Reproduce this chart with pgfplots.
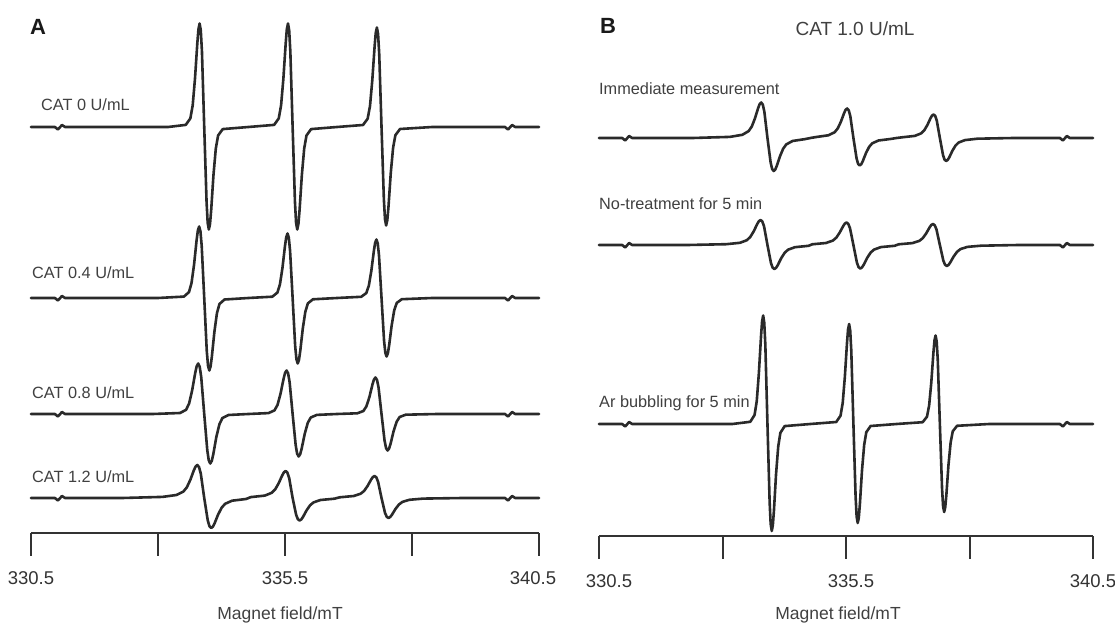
\documentclass[border=0pt]{standalone}
\usepackage{fontspec}
\setmainfont{Liberation Sans}
\usepackage{pgfplots}
\pgfplotsset{compat=1.18}
\definecolor{trace}{HTML}{2A2A2A}
\definecolor{axisgray}{HTML}{333333}
\definecolor{txt}{HTML}{404040}
\pgfplotsset{
  spec/.style={line width=2.6pt, color=trace, line join=round, line cap=round, no marks},
  epr/.style={scale only axis, axis x line=bottom, axis y line=none,
    axis line style={-, line width=2pt, color=axisgray},
    xmin=330.5, xmax=340.5,
    xtick={330.5,333,335.5,338,340.5},
    xtick align=outside, major tick length=23pt,
    tick style={line width=2pt, color=axisgray},
    xticklabel style={font=\fontsize{18.5}{20}\selectfont, text=axisgray, anchor=north, inner sep=0pt, yshift=-15pt},
    clip=false}
}
\begin{document}
\begin{tikzpicture}
\useasboundingbox (0,0) rectangle (1115pt,623pt);
% ---------------- Panel A ----------------
\begin{axis}[epr, at={(31pt,90pt)}, anchor=south west, width=508pt, height=533pt, ymin=-533, ymax=0,
  xticklabels={330.5,,335.5,,\hspace*{-12pt}340.5}]
% CAT 0
\addplot[spec] coordinates {
(330.5,-127) (330.97,-127) (331.03,-129.5) (331.11,-125) (331.17,-127) (333.2,-127)
(333.546,-124.9) (333.637,-118.4) (333.683,-105.3) (333.728,-78.7) (333.774,-43.2) (333.796,-29.2) (333.819,-23.5) (333.842,-30.2) (333.865,-51.3) (333.910,-127) (333.956,-201.9) (333.978,-222.8) (334.001,-229.5) (334.024,-223.9) (334.047,-210.0) (334.092,-174.9) (334.138,-148.5) (334.183,-135.5) (334.274,-129.1)
(334.78,-127)
(335.286,-124.9) (335.377,-118.4) (335.423,-105.3) (335.468,-78.7) (335.514,-43.2) (335.536,-29.2) (335.559,-23.5) (335.582,-30.2) (335.605,-51.3) (335.650,-127) (335.696,-201.9) (335.718,-222.8) (335.741,-229.5) (335.764,-223.9) (335.787,-210.0) (335.832,-174.9) (335.878,-148.5) (335.923,-135.5) (336.014,-129.1)
(336.525,-127)
(337.036,-125.0) (337.127,-118.7) (337.173,-106.1) (337.218,-80.5) (337.264,-46.4) (337.286,-33.0) (337.309,-27.5) (337.332,-34.0) (337.355,-54.3) (337.400,-127) (337.446,-199.0) (337.468,-219.1) (337.491,-225.5) (337.514,-220.1) (337.537,-206.8) (337.582,-173.0) (337.628,-147.7) (337.673,-135.2) (337.764,-129.0)
(338.4,-127) (339.83,-127) (339.89,-129.5) (339.97,-125) (340.03,-127) (340.5,-127)
};
% CAT 0.4
\addplot[spec] coordinates {
(330.5,-298) (330.97,-298) (331.03,-300.5) (331.11,-296) (331.17,-298) (333.0,-298)
(333.51,-296.6) (333.61,-292.1) (333.66,-283.0) (333.71,-264.6) (333.76,-240.1) (333.785,-230.4) (333.81,-226.5) (333.835,-231.2) (333.86,-245.7) (333.91,-298) (333.96,-351.0) (333.985,-365.8) (334.01,-370.5) (334.035,-366.5) (334.06,-356.7) (334.11,-331.9) (334.16,-313.2) (334.21,-304.0) (334.31,-299.5)
(334.78,-298)
(335.25,-296.7) (335.35,-292.6) (335.40,-284.5) (335.45,-267.9) (335.50,-245.8) (335.525,-237.0) (335.55,-233.5) (335.575,-237.7) (335.60,-250.9) (335.65,-298) (335.70,-345.9) (335.725,-359.2) (335.75,-363.5) (335.775,-359.9) (335.80,-351.1) (335.85,-328.6) (335.90,-311.8) (335.95,-303.4) (336.05,-299.3)
(336.525,-298)
(337.00,-296.8) (337.10,-293.1) (337.15,-285.7) (337.20,-270.7) (337.25,-250.6) (337.275,-242.7) (337.30,-239.5) (337.325,-243.3) (337.35,-255.2) (337.40,-298) (337.45,-340.8) (337.475,-352.7) (337.50,-356.5) (337.525,-353.3) (337.55,-345.4) (337.60,-325.3) (337.65,-310.3) (337.70,-302.9) (337.80,-299.2)
(338.4,-298) (339.83,-298) (339.89,-300.5) (339.97,-296) (340.03,-298) (340.5,-298)
};
% CAT 0.8
\addplot[spec] coordinates {
(330.5,-414) (330.97,-414) (331.03,-416.5) (331.11,-412) (331.17,-414) (332.9,-414)
(333.434,-413.0) (333.553,-409.8) (333.613,-403.4) (333.672,-390.4) (333.732,-373.1) (333.761,-366.3) (333.791,-363.5) (333.821,-366.8) (333.851,-377.1) (333.910,-414) (333.970,-450.2) (333.999,-460.3) (334.029,-463.5) (334.059,-460.8) (334.089,-454.1) (334.148,-437.1) (334.208,-424.4) (334.267,-418.1) (334.386,-415.0)
(334.78,-414)
(335.174,-413.1) (335.293,-410.4) (335.353,-404.9) (335.412,-393.7) (335.472,-378.8) (335.501,-372.9) (335.531,-370.5) (335.561,-373.3) (335.591,-382.2) (335.650,-414) (335.710,-445.1) (335.739,-453.7) (335.769,-456.5) (335.799,-454.2) (335.829,-448.4) (335.888,-433.9) (335.948,-422.9) (336.007,-417.5) (336.126,-414.9)
(336.525,-414)
(336.924,-413.3) (337.043,-411.0) (337.103,-406.3) (337.162,-397.0) (337.222,-384.4) (337.251,-379.5) (337.281,-377.5) (337.311,-379.9) (337.341,-387.3) (337.400,-414) (337.460,-440.7) (337.489,-448.1) (337.519,-450.5) (337.549,-448.5) (337.579,-443.6) (337.638,-431.1) (337.698,-421.7) (337.757,-417.0) (337.876,-414.7)
(338.5,-414) (339.83,-414) (339.89,-416.5) (339.97,-412) (340.03,-414) (340.5,-414)
};
% CAT 1.2
\addplot[spec] coordinates {
(330.5,-498) (330.97,-498) (331.03,-500.5) (331.11,-496) (331.17,-498) (332.3,-498)
(333.088,-496.9) (333.362,-495.0) (333.499,-491.6) (333.568,-487.3) (333.636,-479.9) (333.705,-470.4) (333.739,-466.6) (333.773,-465.0) (333.807,-467.0) (333.842,-473.5) (333.910,-498) (333.979,-520.3) (334.013,-526.2) (334.047,-528.0) (334.081,-526.6) (334.116,-523.1) (334.184,-514.5) (334.253,-507.7) (334.321,-503.8) (334.458,-500.7) (334.732,-499.0)
(334.828,-497.1) (335.102,-495.6) (335.239,-492.8) (335.308,-489.3) (335.376,-483.2) (335.445,-475.4) (335.479,-472.3) (335.513,-471.0) (335.547,-472.6) (335.582,-477.9) (335.650,-498) (335.719,-514.7) (335.753,-519.2) (335.787,-520.5) (335.821,-519.4) (335.856,-516.8) (335.924,-510.4) (335.993,-505.3) (336.061,-502.4) (336.198,-500.0) (336.472,-498.7)
(336.578,-497.3) (336.852,-496.0) (336.989,-493.7) (337.058,-490.9) (337.126,-485.9) (337.195,-479.6) (337.229,-477.1) (337.263,-476.0) (337.297,-477.3) (337.332,-481.7) (337.400,-498) (337.469,-512.9) (337.503,-516.8) (337.537,-518.0) (337.571,-517.0) (337.606,-514.7) (337.674,-509.0) (337.743,-504.5) (337.811,-501.9) (337.948,-499.8) (338.222,-498.6)
(339.0,-498) (339.83,-498) (339.89,-500.5) (339.97,-496) (340.03,-498) (340.5,-498)
};
\end{axis}
% ---------------- Panel B ----------------
\begin{axis}[epr, at={(599pt,87pt)}, anchor=south west, width=494pt, height=536pt, ymin=-536, ymax=0,
  xticklabels={\hspace*{20pt}330.5,,\hspace*{10pt}335.5,,340.5}]
% Immediate measurement
\addplot[spec] coordinates {
(330.5,-138) (330.97,-138) (331.03,-140.5) (331.11,-136) (331.17,-138) (332.4,-138)
(333.148,-136.9) (333.402,-134.8) (333.529,-131.1) (333.593,-126.5) (333.656,-118.5) (333.720,-108.3) (333.751,-104.2) (333.783,-102.5) (333.815,-104.6) (333.847,-111.6) (333.910,-138) (333.974,-162.5) (334.005,-169.0) (334.037,-171.0) (334.069,-169.4) (334.101,-165.6) (334.164,-156.2) (334.228,-148.7) (334.291,-144.4) (334.418,-141.0) (334.672,-139.1)
(334.78,-138)
(334.888,-137.1) (335.142,-135.3) (335.269,-132.3) (335.333,-128.4) (335.396,-121.8) (335.460,-113.3) (335.491,-109.9) (335.523,-108.5) (335.555,-110.3) (335.587,-116.1) (335.650,-138) (335.714,-158.4) (335.745,-163.9) (335.777,-165.5) (335.809,-164.2) (335.841,-161.0) (335.904,-153.1) (335.968,-146.9) (336.031,-143.3) (336.158,-140.5) (336.412,-138.9)
(336.525,-138)
(336.638,-137.3) (336.892,-135.9) (337.019,-133.4) (337.083,-130.4) (337.146,-125.1) (337.210,-118.3) (337.241,-115.6) (337.273,-114.5) (337.305,-115.9) (337.337,-120.5) (337.400,-138) (337.464,-155.1) (337.495,-159.6) (337.527,-161.0) (337.559,-159.9) (337.591,-157.3) (337.654,-150.7) (337.718,-145.5) (337.781,-142.5) (337.908,-140.1) (338.162,-138.7)
(338.9,-138) (339.83,-138) (339.89,-140.5) (339.97,-136) (340.03,-138) (340.5,-138)
};
% No-treatment for 5 min
\addplot[spec] coordinates {
(330.5,-245) (330.97,-245) (331.03,-247.5) (331.11,-243) (331.17,-245) (332.3,-245)
(333.076,-244.2) (333.354,-242.8) (333.493,-240.2) (333.563,-236.9) (333.632,-231.3) (333.702,-224.1) (333.736,-221.2) (333.771,-220.0) (333.806,-221.5) (333.841,-226.4) (333.910,-245) (333.980,-262.8) (334.014,-267.6) (334.049,-269.0) (334.084,-267.9) (334.119,-265.1) (334.188,-258.2) (334.258,-252.8) (334.327,-249.7) (334.466,-247.2) (334.744,-245.8)
(334.816,-244.3) (335.094,-243.0) (335.233,-240.6) (335.303,-237.7) (335.372,-232.6) (335.442,-226.2) (335.476,-223.6) (335.511,-222.5) (335.546,-223.9) (335.581,-228.3) (335.650,-245) (335.720,-262.5) (335.754,-267.1) (335.789,-268.5) (335.824,-267.4) (335.859,-264.7) (335.928,-257.9) (335.998,-252.6) (336.067,-249.6) (336.206,-247.1) (336.484,-245.8)
(336.566,-244.3) (336.844,-243.1) (336.983,-240.9) (337.053,-238.2) (337.122,-233.5) (337.192,-227.4) (337.226,-225.0) (337.261,-224.0) (337.296,-225.3) (337.331,-229.4) (337.400,-245) (337.470,-260.6) (337.504,-264.7) (337.539,-266.0) (337.574,-265.0) (337.609,-262.6) (337.678,-256.6) (337.748,-251.8) (337.817,-249.1) (337.956,-246.9) (338.234,-245.7)
(339.0,-245) (339.83,-245) (339.89,-247.5) (339.97,-243) (340.03,-245) (340.5,-245)
};
% Ar bubbling for 5 min
\addplot[spec] coordinates {
(330.5,-424) (330.97,-424) (331.03,-426.5) (331.11,-422) (331.17,-424) (333.2,-424)
(333.562,-421.8) (333.649,-415.0) (333.693,-401.2) (333.736,-373.3) (333.780,-336.1) (333.801,-321.5) (333.823,-315.5) (333.845,-322.6) (333.867,-344.7) (333.910,-424) (333.954,-502.2) (333.975,-524.1) (333.997,-531.0) (334.019,-525.1) (334.041,-510.7) (334.084,-474.0) (334.128,-446.5) (334.171,-432.9) (334.258,-426.1)
(334.78,-424)
(335.302,-422.0) (335.389,-415.7) (335.433,-403.0) (335.476,-377.3) (335.520,-343.0) (335.541,-329.5) (335.563,-324.0) (335.585,-330.5) (335.607,-350.9) (335.650,-424) (335.694,-496.4) (335.715,-516.6) (335.737,-523.0) (335.759,-517.6) (335.781,-504.2) (335.824,-470.2) (335.868,-444.8) (335.911,-432.2) (335.998,-426.0)
(336.525,-424)
(337.052,-422.2) (337.139,-416.7) (337.183,-405.4) (337.226,-382.7) (337.270,-352.3) (337.291,-340.4) (337.313,-335.5) (337.335,-341.3) (337.357,-359.3) (337.400,-424) (337.444,-488.3) (337.465,-506.3) (337.487,-512.0) (337.509,-507.2) (337.531,-495.3) (337.574,-465.1) (337.618,-442.5) (337.661,-431.3) (337.748,-425.8)
(338.4,-424) (339.83,-424) (339.89,-426.5) (339.97,-422) (340.03,-424) (340.5,-424)
};
\end{axis}
% ---------------- Texts ----------------
\begin{scope}[every node/.style={inner sep=0pt, text=txt}]
\node[anchor=base west, text=black!90, font=\bfseries\fontsize{22}{24}\selectfont] at (30pt,588pt) {A};
\node[anchor=base west, text=black!90, font=\bfseries\fontsize{22}{24}\selectfont] at (600pt,589pt) {B};
\node[anchor=base, font=\fontsize{19}{20}\selectfont] at (855pt,587pt) {CAT 1.0 U/mL};
\node[anchor=base west, font=\fontsize{16.3}{18}\selectfont] at (41pt,512pt) {CAT 0 U/mL};
\node[anchor=base west, font=\fontsize{16.3}{18}\selectfont] at (32pt,344pt) {CAT 0.4 U/mL};
\node[anchor=base west, font=\fontsize{16.3}{18}\selectfont] at (32pt,224pt) {CAT 0.8 U/mL};
\node[anchor=base west, font=\fontsize{16.3}{18}\selectfont] at (32pt,140pt) {CAT 1.2 U/mL};
\node[anchor=base west, font=\fontsize{16.3}{18}\selectfont] at (599pt,528pt) {Immediate measurement};
\node[anchor=base west, font=\fontsize{16.3}{18}\selectfont] at (599pt,413pt) {No-treatment for 5 min};
\node[anchor=base west, font=\fontsize{16.3}{18}\selectfont] at (599pt,215pt) {Ar bubbling for 5 min};
\node[anchor=base, font=\fontsize{17.5}{19}\selectfont] at (280pt,4pt) {Magnet field/mT};
\node[anchor=base, font=\fontsize{17.5}{19}\selectfont] at (838pt,4pt) {Magnet field/mT};
\end{scope}
\end{tikzpicture}
\end{document}
